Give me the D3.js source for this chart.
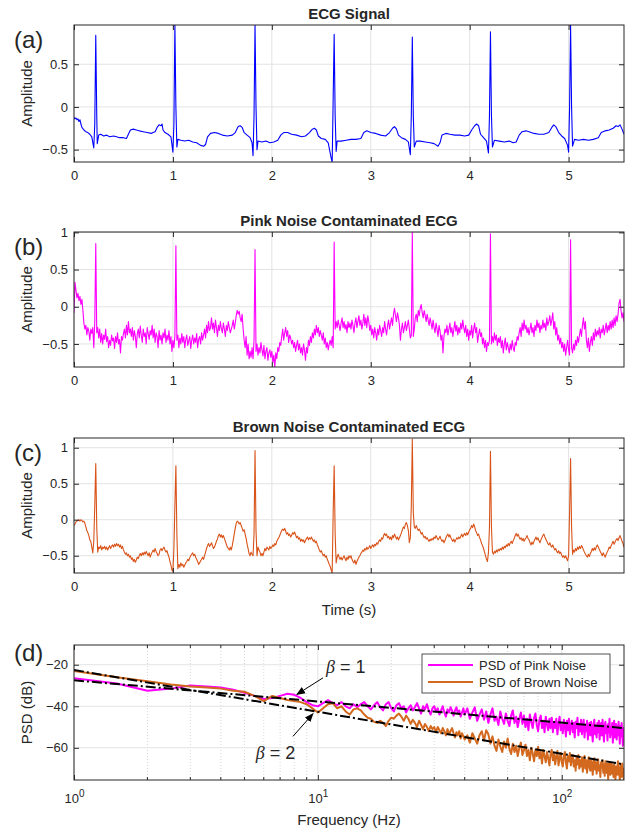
<!DOCTYPE html>
<html><head><meta charset="utf-8">
<script src="https://cdn.jsdelivr.net/npm/d3@7"></script>
<style>
body{margin:0;background:#fff}
svg{display:block}
text{font-family:"Liberation Sans",Arial,sans-serif;fill:#262626}
</style>
</head><body>
<svg id="chart" width="633" height="831"></svg>
<script>
// ---------------- DATA ----------------
const timeStep = 0.01;               // s, sample spacing of the noisy traces
const timeTicks = [0, 1, 2, 3, 4, 5];
const ampTicksA = [-0.5, 0, 0.5];
const ampTicksBC = [-0.5, 0, 0.5, 1];
const psdTicksY = [-60, -40, -20];
const freqTicksMajor = [1, 10, 100];
const freqTicksMinor = [2,3,4,5,6,7,8,9,20,30,40,50,60,70,80,90];

// (a) clean ECG, [time s, amplitude]
const ecgSignal = [[0,-0.12],[0.01,-0.14],[0.02,-0.13],[0.03,-0.15],[0.04,-0.14],[0.05,-0.17],[0.06,-0.15],[0.07,-0.2],[0.08,-0.24],[0.1,-0.27],[0.12,-0.29],[0.14,-0.3],[0.16,-0.32],[0.18,-0.35],[0.2,-0.48],[0.21,-0.2],[0.22,0.84],[0.23,-0.1],[0.235,-0.43],[0.25,-0.33],[0.27,-0.32],[0.3,-0.34],[0.33,-0.33],[0.36,-0.35],[0.4,-0.34],[0.43,-0.35],[0.46,-0.36],[0.5,-0.36],[0.53,-0.37],[0.55,-0.32],[0.57,-0.27],[0.6,-0.26],[0.63,-0.27],[0.66,-0.28],[0.7,-0.29],[0.74,-0.3],[0.78,-0.31],[0.8,-0.3],[0.82,-0.29],[0.84,-0.24],[0.86,-0.21],[0.88,-0.22],[0.89,-0.2],[0.9,-0.27],[0.92,-0.3],[0.95,-0.32],[0.98,-0.35],[1.0,-0.53],[1.01,-0.2],[1.02,0.97],[1.03,0.0],[1.04,-0.47],[1.05,-0.38],[1.08,-0.39],[1.12,-0.4],[1.16,-0.39],[1.2,-0.41],[1.24,-0.42],[1.28,-0.45],[1.31,-0.46],[1.33,-0.44],[1.35,-0.35],[1.38,-0.31],[1.42,-0.3],[1.46,-0.31],[1.5,-0.33],[1.55,-0.34],[1.6,-0.33],[1.63,-0.3],[1.66,-0.23],[1.68,-0.22],[1.7,-0.24],[1.72,-0.3],[1.75,-0.33],[1.78,-0.36],[1.8,-0.42],[1.81,-0.57],[1.82,-0.1],[1.83,0.97],[1.84,0.0],[1.85,-0.5],[1.86,-0.4],[1.9,-0.41],[1.94,-0.4],[1.98,-0.42],[2.02,-0.41],[2.06,-0.39],[2.09,-0.33],[2.12,-0.3],[2.16,-0.3],[2.2,-0.32],[2.25,-0.33],[2.3,-0.35],[2.34,-0.34],[2.38,-0.3],[2.41,-0.26],[2.43,-0.25],[2.45,-0.27],[2.47,-0.34],[2.5,-0.37],[2.54,-0.38],[2.57,-0.42],[2.6,-0.6],[2.61,-0.65],[2.62,0.1],[2.63,0.85],[2.64,-0.1],[2.65,-0.52],[2.66,-0.4],[2.7,-0.4],[2.75,-0.39],[2.8,-0.38],[2.85,-0.38],[2.9,-0.37],[2.93,-0.3],[2.96,-0.28],[3.0,-0.3],[3.05,-0.31],[3.1,-0.33],[3.15,-0.34],[3.19,-0.3],[3.22,-0.25],[3.24,-0.23],[3.26,-0.26],[3.28,-0.33],[3.31,-0.36],[3.35,-0.38],[3.38,-0.41],[3.4,-0.56],[3.41,-0.1],[3.42,0.82],[3.43,-0.1],[3.44,-0.47],[3.46,-0.4],[3.5,-0.4],[3.55,-0.41],[3.6,-0.42],[3.64,-0.43],[3.68,-0.46],[3.7,-0.42],[3.72,-0.33],[3.76,-0.31],[3.8,-0.32],[3.85,-0.33],[3.9,-0.33],[3.95,-0.34],[3.99,-0.33],[4.02,-0.27],[4.05,-0.22],[4.07,-0.2],[4.09,-0.22],[4.11,-0.32],[4.14,-0.36],[4.17,-0.4],[4.19,-0.54],[4.2,-0.1],[4.21,0.88],[4.22,-0.1],[4.23,-0.47],[4.25,-0.39],[4.3,-0.4],[4.35,-0.41],[4.4,-0.4],[4.44,-0.42],[4.47,-0.41],[4.5,-0.33],[4.53,-0.29],[4.57,-0.28],[4.6,-0.29],[4.65,-0.31],[4.7,-0.32],[4.75,-0.32],[4.8,-0.3],[4.83,-0.24],[4.85,-0.21],[4.87,-0.23],[4.9,-0.3],[4.93,-0.34],[4.96,-0.37],[4.99,-0.45],[5.0,-0.53],[5.01,0.0],[5.02,0.96],[5.03,0.0],[5.04,-0.46],[5.06,-0.38],[5.1,-0.39],[5.15,-0.38],[5.2,-0.39],[5.25,-0.38],[5.3,-0.36],[5.33,-0.3],[5.37,-0.28],[5.41,-0.27],[5.45,-0.25],[5.48,-0.22],[5.5,-0.23],[5.52,-0.21],[5.54,-0.26],[5.56,-0.32]];

// (b) pink-noise ECG, one value every 0.01 s from t = 0
const pinkEcg = [
-0.08,0.33,0.22,0.12,0.18,0.08,0.14,0.03,0.10,-0.05,
-0.22,-0.30,-0.25,-0.38,-0.28,-0.33,-0.45,-0.30,-0.36,-0.28,
-0.55,-0.20,0.85,-0.35,-0.28,-0.42,-0.30,-0.48,-0.36,-0.50,
-0.38,-0.44,-0.30,-0.47,-0.40,-0.55,-0.45,-0.52,-0.38,-0.46,
-0.42,-0.56,-0.40,-0.48,-0.35,-0.50,-0.44,-0.62,-0.40,-0.45,
-0.36,-0.30,-0.42,-0.25,-0.38,-0.20,-0.35,-0.30,-0.40,-0.28,
-0.45,-0.32,-0.40,-0.55,-0.36,-0.30,-0.42,-0.26,-0.38,-0.48,
-0.30,-0.40,-0.35,-0.50,-0.28,-0.36,-0.44,-0.32,-0.38,-0.25,
-0.42,-0.30,-0.48,-0.35,-0.40,-0.55,-0.32,-0.45,-0.38,-0.50,
-0.35,-0.42,-0.30,-0.48,-0.38,-0.45,-0.32,-0.50,-0.40,-0.60,
-0.45,-0.55,-0.40,0.82,-0.45,-0.38,-0.55,-0.42,-0.50,-0.36,
-0.48,-0.40,-0.55,-0.44,-0.38,-0.52,-0.46,-0.40,-0.56,-0.45,
-0.38,-0.50,-0.42,-0.48,-0.36,-0.55,-0.44,-0.40,-0.50,-0.35,
-0.45,-0.38,-0.30,-0.42,-0.25,-0.35,-0.20,-0.32,-0.28,-0.15,
-0.30,-0.22,-0.35,-0.18,-0.28,-0.40,-0.25,-0.32,-0.20,-0.30,
-0.35,-0.22,-0.30,-0.40,-0.25,-0.32,-0.20,-0.28,-0.35,-0.30,
-0.25,-0.18,-0.30,-0.22,-0.12,-0.05,-0.10,-0.06,-0.15,-0.20,
-0.10,-0.30,-0.45,-0.55,-0.40,-0.65,-0.50,-0.70,-0.60,-0.68,
-0.55,-0.70,-0.45,0.77,-0.60,-0.50,-0.65,-0.55,-0.62,-0.48,
-0.58,-0.66,-0.52,-0.70,-0.60,-0.55,-0.72,-0.62,-0.58,-0.68,
-0.60,-0.75,-0.65,-0.82,-0.62,-0.70,-0.55,-0.60,-0.48,-0.52,
-0.40,-0.30,-0.45,-0.35,-0.28,-0.40,-0.32,-0.48,-0.38,-0.42,
-0.50,-0.45,-0.55,-0.48,-0.60,-0.52,-0.45,-0.58,-0.50,-0.62,
-0.55,-0.65,-0.50,-0.58,-0.72,-0.55,-0.62,-0.45,-0.52,-0.40,
-0.48,-0.35,-0.42,-0.30,-0.38,-0.25,-0.35,-0.28,-0.40,-0.32,
-0.38,-0.45,-0.35,-0.50,-0.42,-0.55,-0.48,-0.58,-0.50,-0.45,
-0.52,-0.40,-0.55,0.87,-0.30,-0.20,-0.28,-0.18,-0.25,-0.32,
-0.22,-0.15,-0.28,-0.20,-0.30,-0.24,-0.35,-0.20,-0.28,-0.22,
-0.30,-0.18,-0.25,-0.35,-0.22,-0.15,-0.28,-0.20,-0.12,-0.25,
-0.18,-0.30,-0.22,-0.10,-0.25,-0.15,-0.28,-0.12,-0.20,-0.32,
-0.25,-0.38,-0.30,-0.42,-0.28,-0.35,-0.45,-0.30,-0.38,-0.25,
-0.32,-0.40,-0.28,-0.35,-0.20,-0.30,-0.38,-0.25,-0.18,-0.30,
-0.22,-0.15,-0.25,-0.10,-0.02,-0.12,-0.20,-0.08,-0.15,-0.25,
-0.45,-0.30,-0.22,-0.35,-0.28,-0.20,-0.32,-0.25,-0.18,-0.30,
-0.42,-0.38,1.00,-0.40,-0.30,-0.15,-0.10,-0.20,-0.05,-0.12,
-0.02,0.03,-0.08,-0.15,-0.05,-0.12,-0.20,-0.10,-0.18,-0.25,
-0.15,-0.22,-0.30,-0.18,-0.28,-0.35,-0.22,-0.30,-0.40,-0.25,
-0.32,-0.45,-0.38,-0.62,-0.40,-0.30,-0.35,-0.25,-0.38,-0.30,
-0.22,-0.35,-0.28,-0.40,-0.30,-0.20,-0.33,-0.25,-0.38,-0.28,
-0.35,-0.22,-0.30,-0.18,-0.28,-0.35,-0.25,-0.40,-0.30,-0.45,
-0.32,-0.38,-0.25,-0.42,-0.30,-0.22,-0.35,-0.28,-0.48,-0.38,
-0.30,-0.40,-0.35,-0.50,-0.42,-0.55,-0.45,-0.60,-0.48,-0.52,
-0.45,0.98,-0.50,-0.40,-0.48,-0.35,-0.45,-0.38,-0.52,-0.42,
-0.48,-0.40,-0.55,-0.45,-0.62,-0.50,-0.42,-0.58,-0.48,-0.55,
-0.62,-0.50,-0.58,-0.45,-0.55,-0.60,-0.48,-0.52,-0.40,-0.45,
-0.35,-0.28,-0.40,-0.22,-0.32,-0.18,-0.30,-0.25,-0.35,-0.28,
-0.38,-0.30,-0.22,-0.35,-0.28,-0.40,-0.25,-0.32,-0.18,-0.28,
-0.22,-0.35,-0.25,-0.30,-0.18,-0.28,-0.22,-0.32,-0.15,-0.25,
-0.20,-0.12,-0.25,-0.18,-0.08,-0.30,-0.20,-0.38,-0.28,-0.45,
-0.38,-0.50,-0.42,-0.55,-0.48,-0.60,-0.50,-0.65,-0.55,-0.45,
-0.58,-0.65,0.90,-0.55,-0.62,-0.50,-0.58,-0.45,-0.52,-0.40,
-0.48,-0.38,-0.30,-0.40,-0.25,-0.15,-0.30,-0.20,-0.45,-0.55,
-0.42,-0.60,-0.48,-0.40,-0.52,-0.35,-0.45,-0.30,-0.40,-0.32,
-0.38,-0.28,-0.42,-0.30,-0.35,-0.25,-0.38,-0.30,-0.22,-0.35,
-0.25,-0.32,-0.20,-0.30,-0.18,-0.28,-0.15,-0.25,-0.12,-0.20,
-0.10,0.05,0.10,-0.05,-0.15,-0.08,-0.20];

// (c) brown-noise ECG, one value every 0.01 s from t = 0
const brownEcg = [
-0.08,-0.06,-0.03,-0.02,-0.01,0.00,-0.02,0.00,-0.01,-0.03,
-0.02,-0.05,-0.10,-0.15,-0.18,-0.22,-0.28,-0.30,-0.38,-0.46,
-0.30,0.20,0.78,-0.10,-0.45,-0.38,-0.40,-0.36,-0.42,-0.38,
-0.40,-0.37,-0.41,-0.38,-0.42,-0.39,-0.36,-0.40,-0.37,-0.35,
-0.38,-0.34,-0.37,-0.33,-0.36,-0.34,-0.38,-0.35,-0.40,-0.37,
-0.42,-0.45,-0.48,-0.46,-0.50,-0.48,-0.52,-0.50,-0.55,-0.53,
-0.58,-0.55,-0.59,-0.56,-0.52,-0.54,-0.50,-0.47,-0.50,-0.46,
-0.49,-0.45,-0.48,-0.44,-0.47,-0.50,-0.46,-0.52,-0.48,-0.45,
-0.42,-0.45,-0.40,-0.44,-0.47,-0.50,-0.48,-0.42,-0.40,-0.43,
-0.40,-0.38,-0.42,-0.45,-0.43,-0.48,-0.52,-0.58,-0.63,-0.70,
-0.72,-0.40,0.20,0.75,-0.20,-0.68,-0.62,-0.66,-0.60,-0.64,
-0.62,-0.66,-0.63,-0.60,-0.58,-0.55,-0.57,-0.53,-0.50,-0.48,
-0.46,-0.50,-0.48,-0.52,-0.55,-0.58,-0.62,-0.60,-0.57,-0.55,
-0.52,-0.55,-0.50,-0.45,-0.40,-0.36,-0.33,-0.37,-0.35,-0.32,
-0.36,-0.40,-0.38,-0.34,-0.30,-0.27,-0.22,-0.20,-0.24,-0.21,
-0.25,-0.22,-0.26,-0.30,-0.34,-0.38,-0.40,-0.42,-0.38,-0.42,
-0.36,-0.28,-0.20,-0.12,-0.05,-0.02,-0.03,-0.06,-0.04,-0.08,
-0.12,-0.16,-0.14,-0.20,-0.26,-0.34,-0.40,-0.47,-0.50,-0.45,
-0.48,-0.50,-0.20,0.96,-0.15,-0.50,-0.38,-0.42,-0.45,-0.50,
-0.47,-0.50,-0.45,-0.40,-0.43,-0.38,-0.40,-0.42,-0.37,-0.40,
-0.38,-0.35,-0.37,-0.33,-0.35,-0.30,-0.27,-0.25,-0.22,-0.18,
-0.15,-0.13,-0.15,-0.12,-0.16,-0.20,-0.18,-0.22,-0.20,-0.24,
-0.22,-0.18,-0.20,-0.17,-0.21,-0.25,-0.23,-0.27,-0.25,-0.30,
-0.27,-0.30,-0.28,-0.32,-0.29,-0.26,-0.24,-0.28,-0.25,-0.27,
-0.24,-0.27,-0.30,-0.28,-0.32,-0.30,-0.35,-0.38,-0.42,-0.45,
-0.43,-0.47,-0.50,-0.48,-0.52,-0.50,-0.55,-0.58,-0.62,-0.65,
-0.70,-0.74,0.10,0.75,-0.20,-0.60,-0.52,-0.48,-0.52,-0.55,
-0.52,-0.56,-0.53,-0.50,-0.54,-0.57,-0.52,-0.55,-0.50,-0.53,
-0.50,-0.55,-0.58,-0.60,-0.56,-0.62,-0.58,-0.55,-0.52,-0.50,
-0.47,-0.45,-0.42,-0.44,-0.40,-0.42,-0.38,-0.41,-0.39,-0.36,
-0.40,-0.37,-0.35,-0.38,-0.34,-0.36,-0.32,-0.34,-0.30,-0.28,
-0.30,-0.25,-0.27,-0.22,-0.19,-0.22,-0.20,-0.25,-0.23,-0.27,
-0.24,-0.28,-0.22,-0.25,-0.20,-0.23,-0.27,-0.24,-0.28,-0.25,
-0.22,-0.18,-0.14,-0.10,-0.12,-0.06,-0.04,-0.08,-0.15,-0.32,
-0.25,0.20,1.12,0.10,-0.10,-0.12,-0.08,-0.12,-0.15,-0.13,
-0.16,-0.20,-0.18,-0.22,-0.25,-0.23,-0.27,-0.25,-0.28,-0.30,
-0.27,-0.29,-0.26,-0.28,-0.24,-0.26,-0.22,-0.25,-0.28,-0.26,
-0.23,-0.27,-0.30,-0.28,-0.32,-0.29,-0.25,-0.22,-0.20,-0.24,
-0.21,-0.25,-0.28,-0.30,-0.27,-0.31,-0.28,-0.25,-0.27,-0.24,
-0.26,-0.23,-0.20,-0.24,-0.21,-0.19,-0.22,-0.18,-0.21,-0.17,
-0.14,-0.12,-0.08,-0.11,-0.06,-0.10,-0.15,-0.18,-0.22,-0.20,
-0.25,-0.28,-0.33,-0.36,-0.40,-0.45,-0.50,-0.55,-0.58,-0.45,
-0.10,0.95,-0.10,-0.45,-0.48,-0.44,-0.46,-0.42,-0.45,-0.41,
-0.43,-0.40,-0.42,-0.38,-0.41,-0.37,-0.39,-0.35,-0.37,-0.33,
-0.36,-0.32,-0.30,-0.33,-0.29,-0.26,-0.22,-0.19,-0.23,-0.20,
-0.24,-0.27,-0.25,-0.29,-0.26,-0.30,-0.27,-0.25,-0.22,-0.26,
-0.28,-0.32,-0.35,-0.31,-0.34,-0.30,-0.27,-0.24,-0.28,-0.25,
-0.29,-0.32,-0.28,-0.25,-0.22,-0.20,-0.24,-0.27,-0.30,-0.33,
-0.35,-0.32,-0.36,-0.38,-0.35,-0.39,-0.42,-0.40,-0.44,-0.46,
-0.43,-0.47,-0.45,-0.49,-0.52,-0.50,-0.53,-0.50,-0.54,-0.57,
-0.50,0.10,0.85,-0.10,-0.48,-0.42,-0.45,-0.40,-0.43,-0.38,
-0.41,-0.37,-0.40,-0.36,-0.38,-0.42,-0.45,-0.48,-0.50,-0.52,
-0.48,-0.51,-0.47,-0.44,-0.40,-0.43,-0.39,-0.42,-0.38,-0.35,
-0.38,-0.41,-0.44,-0.47,-0.50,-0.46,-0.49,-0.52,-0.48,-0.45,
-0.42,-0.38,-0.40,-0.36,-0.33,-0.30,-0.34,-0.31,-0.28,-0.26,
-0.29,-0.25,-0.22,-0.26,-0.30,-0.33,-0.38];

// (d) PSD frequency grid (Hz): 1..40 by 0.5, then 41..180 by 1
const psdFreq = [...d3.range(1, 40.01, 0.5), ...d3.range(41, 180.01, 1)];
const psdPink = [
-26.5,-29,-32.5,-31.5,-30,-30.5,-31,-32,-33.5,-35,-36.5,-36,-35,-34,-34.5,-36,-38,-39.5,-40,
-38.5,-37,-38.5,-39.5,-38,-40,-41,-39,-40.5,-39,
-38,-40,-41.5,-39.5,-38,-40.5,-42,-39,-38,-41,
-42.5,-39.5,-38.5,-41,-40,-43,-41,-39.5,-42,-40.5,
-38.5,-41,-43.5,-40,-41.5,-39,-42,-44,-41,-40,
-42.5,-41,-44,-42,-40,-43,-45,-41.5,-43,-40.5,
-42,-44.5,-42,-40.5,-43.5,-42,-45,-43,-41,-44,
-41,-46,-43,-40.5,-47,-44,-41.5,-46.5,-42.5,-48,
-44,-41,-47,-45,-49,-42.5,-46,-48.5,-43.5,-47,
-49.5,-44.5,-42,-48,-45,-50,-46,-43,-48.5,-44.5,
-50,-46,-51.5,-44,-47.5,-50.5,-45.5,-43.5,-49,-52,
-46.5,-44.5,-50.5,-47,-52.5,-45,-49,-51.5,-46,-50.5,
-45.5,-52.5,-47.5,-50.5,-46,-53.5,-48,-45,-51.5,-49,
-53,-46.5,-49.5,-54.5,-47,-51.5,-46,-53.5,-49,-47,
-52.5,-48,-55,-47.5,-50.5,-45.5,-54,-48.5,-52,-46.5,
-53.5,-49.5,-46.5,-55,-49,-52,-47,-56,-50,-48,
-54,-47.5,-51.5,-57,-49,-46.5,-53.5,-50,-55,-48,
-52.5,-47,-56,-50.5,-48,-54,-46.5,-51.5,-57,-49.5,
-47.5,-53,-49.5,-56.5,-48.5,-52.5,-46,-55,-50,-53.5,
-48,-57.5,-50,-47,-55,-51,-48.5,-56,-49.5,-54,
-47.5,-51.5,-58,-49.5,-54.5,-48,-53,-59,-50.5,-56];
const psdBrown = [
-23,-26,-28,-29.5,-30.5,-31,-31.5,-32.5,-33,-35,-37.5,-35,-36,-37,-37.5,-38,-39,-41,-43,
-41,-39,-38.5,-41,-40,-42.5,-44,-41.5,-41,-42,
-44,-45.5,-46,-47.5,-48,-47,-48,-49.5,-47,-45.5,
-46,-44.5,-43.5,-45,-47,-44.5,-46,-48.5,-46.5,-48,
-50,-47,-49,-51,-48.5,-50,-52,-49.5,-51,-50,
-52.5,-50,-51.5,-53,-50.5,-52,-54,-51,-53.5,-52,
-50.5,-53,-55,-52.5,-54,-52,-55.5,-53,-54.5,-56,
-54,-57.5,-53,-55.5,-58,-54,-52,-56.5,-51.5,-53.5,
-58,-54.5,-59,-61.5,-56,-59.5,-62,-57,-60,-55.5,
-60.5,-63,-58,-62,-59,-64,-60,-57.5,-63.5,-61,
-58.5,-64,-61,-66,-60,-62.5,-66.5,-61,-64,-59.5,
-65,-62,-67.5,-61,-64,-67,-62,-65,-68.5,-63,
-61,-66,-63,-68,-64,-61.5,-68.5,-65,-62.5,-67,
-69,-63.5,-62,-67,-70,-64,-66.5,-62.5,-68.5,-65,
-63.5,-69,-66,-71,-64.5,-68,-63.5,-70,-66,-69,
-64.5,-71.5,-67,-64,-70,-66,-72,-67.5,-64.5,-69.5,
-71,-66,-68.5,-73,-66.5,-65,-70.5,-67,-72.5,-68,
-65.5,-71,-68.5,-74,-67,-69.5,-66,-72,-68,-73.5,
-66.5,-70,-72,-67.5,-75,-69,-67,-73,-70,-67.5,
-72.5,-68.5,-74,-68,-70.5,-75.5,-69,-73,-70.5,-66.5,
-73,-70,-76,-68.5,-72,-74,-67.5,-73.5,-70,-77];
// fitted power-law lines [Hz, dB]
const fitBeta1 = [[1, -27.5], [180, -50.5]];
const fitBeta2 = [[1, -22.5], [180, -68]];
// annotation anchors [Hz, dB]
const beta1Label = {f: 13, db: -21, tail: [10.5, -26.3], head: [8.2, -34.3]};
const beta2Label = {f: 6.7, db: -62.6, tail: [7.9, -54.5], head: [9.55, -43.6]};

// ---------------- DRAWING ----------------
const svg = d3.select("#chart");
const L = 74, R = 624;
const ink = "#262626";

svg.append("defs").append("marker")
  .attr("id", "arrow").attr("viewBox", "0 0 10 10").attr("refX", 9).attr("refY", 5)
  .attr("markerWidth", 9).attr("markerHeight", 9).attr("orient", "auto-start-reverse")
  .attr("markerUnits", "userSpaceOnUse")
  .append("path").attr("d", "M0,1 L10,5 L0,9 Z").attr("fill", "#000");

function frame(g, top, bottom, clipId) {
  g.append("clipPath").attr("id", clipId).append("rect")
    .attr("x", L).attr("y", top).attr("width", R - L).attr("height", bottom - top);
}

function finishAxes(g, x, y, top, bottom, xTicks, yTicks, xFmt, yFmt) {
  const xb = g.append("g").attr("transform", `translate(0,${bottom})`)
    .call(d3.axisBottom(x).tickValues(xTicks).tickSizeInner(-5).tickSizeOuter(0).tickPadding(9).tickFormat(xFmt));
  const xt = g.append("g").attr("transform", `translate(0,${top})`)
    .call(d3.axisTop(x).tickValues(xTicks).tickSizeInner(-5).tickSizeOuter(0).tickFormat(""));
  const yl = g.append("g").attr("transform", `translate(${L},0)`)
    .call(d3.axisLeft(y).tickValues(yTicks).tickSizeInner(-5).tickSizeOuter(0).tickPadding(6).tickFormat(yFmt));
  const yr = g.append("g").attr("transform", `translate(${R},0)`)
    .call(d3.axisRight(y).tickValues(yTicks).tickSizeInner(-5).tickSizeOuter(0).tickFormat(""));
  [xb, xt, yl, yr].forEach(a => {
    a.select(".domain").remove();
    a.selectAll("line").attr("stroke", ink);
    a.selectAll("text").attr("font-size", 13).attr("fill", ink)
      .attr("font-family", '"Liberation Sans",Arial,sans-serif');
  });
  g.append("rect").attr("x", L).attr("y", top).attr("width", R - L).attr("height", bottom - top)
    .attr("fill", "none").attr("stroke", ink).attr("stroke-width", 1);
  return xb;
}

function ecgPanel(o) {
  const g = svg.append("g");
  const x = d3.scaleLinear().domain([0, 5.56]).range([L, R]);
  const y = d3.scaleLinear().domain(o.yDomain).range([o.bottom, o.top]);
  frame(g, o.top, o.bottom, o.id);
  g.selectAll(".gx").data(timeTicks).join("line")
    .attr("x1", d => x(d)).attr("x2", d => x(d)).attr("y1", o.top).attr("y2", o.bottom)
    .attr("stroke", "#e3e3e3");
  g.selectAll(".gy").data(o.yTicks).join("line")
    .attr("x1", L).attr("x2", R).attr("y1", d => y(d)).attr("y2", d => y(d))
    .attr("stroke", "#e3e3e3");
  const line = d3.line().x(d => x(d[0])).y(d => y(d[1]));
  g.append("path").datum(o.data).attr("d", line).attr("fill", "none")
    .attr("stroke", o.color).attr("stroke-width", 1.1).attr("stroke-linejoin", "round")
    .attr("clip-path", `url(#${o.id})`);
  finishAxes(g, x, y, o.top, o.bottom, timeTicks, o.yTicks, d3.format("d"), d => d === 0 ? "0" : d3.format("")(d));
  g.append("text").attr("x", (L + R) / 2).attr("y", o.top - 6).attr("text-anchor", "middle")
    .attr("font-size", 15).attr("font-weight", "bold").attr("fill", "#000").text(o.title);
  g.append("text").attr("transform", `translate(32,${(o.top + o.bottom) / 2}) rotate(-90)`)
    .attr("text-anchor", "middle").attr("font-size", 15).attr("fill", ink).text("Amplitude");
  g.append("text").attr("x", 14).attr("y", o.top + 23).attr("font-size", 24)
    .attr("font-family", '"Open Sans",sans-serif').attr("fill", "#000").text(o.label);
  if (o.xlabel) {
    g.append("text").attr("x", (L + R) / 2).attr("y", o.bottom + 42).attr("text-anchor", "middle")
      .attr("font-size", 15).attr("fill", ink).text(o.xlabel);
  }
}

const seq = arr => arr.map((v, i) => [i * timeStep, v]);

ecgPanel({id: "ca", top: 25, bottom: 162, yDomain: [-0.645, 0.96], yTicks: ampTicksA,
  data: ecgSignal, color: "#0000ff", title: "ECG Signal", label: "(a)"});
ecgPanel({id: "cb", top: 232, bottom: 367, yDomain: [-0.81, 1.005], yTicks: ampTicksBC,
  data: seq(pinkEcg), color: "#ff00ff", title: "Pink Noise Contaminated ECG", label: "(b)"});
ecgPanel({id: "cc", top: 438, bottom: 573, yDomain: [-0.74, 1.135], yTicks: ampTicksBC,
  data: seq(brownEcg), color: "#d95319", title: "Brown Noise Contaminated ECG", label: "(c)", xlabel: "Time (s)"});

// ---- (d) PSD panel ----
(function () {
  const top = 645, bottom = 780, id = "cd";
  const g = svg.append("g");
  const x = d3.scaleLog().domain([1, 180]).range([L, R]);
  const y = d3.scaleLinear().domain([-75.5, -10.5]).range([bottom, top]);
  frame(g, top, bottom, id);
  g.selectAll(".gm").data(freqTicksMinor).join("line")
    .attr("x1", d => x(d)).attr("x2", d => x(d)).attr("y1", top).attr("y2", bottom)
    .attr("stroke", "#d6d6d6").attr("stroke-dasharray", "1,2");
  g.selectAll(".gx").data(freqTicksMajor).join("line")
    .attr("x1", d => x(d)).attr("x2", d => x(d)).attr("y1", top).attr("y2", bottom)
    .attr("stroke", "#e3e3e3");
  g.selectAll(".gy").data(psdTicksY).join("line")
    .attr("x1", L).attr("x2", R).attr("y1", d => y(d)).attr("y2", d => y(d))
    .attr("stroke", "#e3e3e3");
  const line = d3.line().x(d => x(d[0])).y(d => y(d[1]));
  const pinkPts = psdFreq.map((f, i) => [f, psdPink[i]]);
  const brownPts = psdFreq.map((f, i) => [f, psdBrown[i]]);
  const cp = g.append("g").attr("clip-path", `url(#${id})`);
  cp.append("path").datum(pinkPts).attr("d", line).attr("fill", "none")
    .attr("stroke", "#ff00ff").attr("stroke-width", 2).attr("stroke-linejoin", "round");
  cp.append("path").datum(brownPts).attr("d", line).attr("fill", "none")
    .attr("stroke", "#d2691e").attr("stroke-width", 2).attr("stroke-linejoin", "round");
  [fitBeta1, fitBeta2].forEach(fl => {
    cp.append("path").datum(fl).attr("d", line).attr("fill", "none")
      .attr("stroke", "#000").attr("stroke-width", 2).attr("stroke-dasharray", "10,3,2,3");
  });
  g.selectAll(".mtb").data(freqTicksMinor).join("line")
    .attr("x1", d => x(d)).attr("x2", d => x(d)).attr("y1", bottom).attr("y2", bottom - 3).attr("stroke", ink);
  g.selectAll(".mtt").data(freqTicksMinor).join("line")
    .attr("x1", d => x(d)).attr("x2", d => x(d)).attr("y1", top).attr("y2", top + 3).attr("stroke", ink);
  const xb = finishAxes(g, x, y, top, bottom, freqTicksMajor, psdTicksY, () => "", d3.format("d"));
  xb.selectAll(".tick text").each(function (d) {
    const t = d3.select(this);
    t.attr("dy", "1.05em");
    t.append("tspan").text("10");
    t.append("tspan").attr("dy", "-0.55em").attr("font-size", 10).text(Math.round(Math.log10(d)));
  });
  const lg = g.append("g");
  lg.append("rect").attr("x", 422).attr("y", 654).attr("width", 188).attr("height", 39)
    .attr("fill", "#fff").attr("stroke", ink).attr("stroke-width", 0.8);
  [["PSD of Pink Noise", "#ff00ff"], ["PSD of Brown Noise", "#d2691e"]].forEach((e, i) => {
    const yy = 665 + i * 17;
    lg.append("line").attr("x1", 428).attr("x2", 473).attr("y1", yy).attr("y2", yy)
      .attr("stroke", e[1]).attr("stroke-width", 2);
    lg.append("text").attr("x", 479).attr("y", yy + 4.5).attr("font-size", 13).attr("fill", "#000").text(e[0]);
  });
  [[beta1Label, "1"], [beta2Label, "2"]].forEach(([a, n]) => {
    g.append("line").attr("x1", x(a.tail[0])).attr("y1", y(a.tail[1]))
      .attr("x2", x(a.head[0])).attr("y2", y(a.head[1]))
      .attr("stroke", "#000").attr("stroke-width", 1).attr("marker-end", "url(#arrow)");
    const t = g.append("text").attr("x", x(a.f)).attr("y", y(a.db) + 6).attr("text-anchor", "middle")
      .attr("font-size", 18).attr("fill", "#000");
    t.append("tspan").attr("font-family", '"Liberation Serif",serif').attr("font-style", "italic").text("β");
    t.append("tspan").text(" = " + n);
  });
  g.append("text").attr("transform", `translate(32,${(top + bottom) / 2}) rotate(-90)`)
    .attr("text-anchor", "middle").attr("font-size", 15).attr("fill", ink).text("PSD (dB)");
  g.append("text").attr("x", (L + R) / 2).attr("y", bottom + 45).attr("text-anchor", "middle")
    .attr("font-size", 15).attr("fill", ink).text("Frequency (Hz)");
  g.append("text").attr("x", 14).attr("y", top + 16).attr("font-size", 24)
    .attr("font-family", '"Open Sans",sans-serif').attr("fill", "#000").text("(d)");
})();
</script>
</body></html>
